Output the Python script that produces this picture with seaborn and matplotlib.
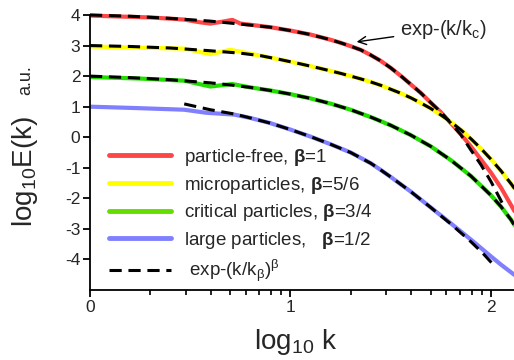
import numpy as np
import pandas as pd
import matplotlib
matplotlib.use("Agg")
import matplotlib.pyplot as plt
from matplotlib.ticker import FixedLocator
from matplotlib.lines import Line2D
import seaborn as sns

# ---- data: x = log10 k, y = log10 E(k) ----
red_x = [0.0, 0.1, 0.2, 0.3, 0.4, 0.47, 0.55, 0.60, 0.66, 0.71, 0.75, 0.80, 0.9, 1.0, 1.1, 1.2, 1.25,
         1.3, 1.35, 1.4, 1.45, 1.5, 1.55, 1.6, 1.65, 1.7, 1.75, 1.8, 1.85, 1.9, 1.95, 2.0, 2.05, 2.1, 2.12]
red_y = [3.98, 3.96, 3.94, 3.92, 3.88, 3.85, 3.76, 3.72, 3.78, 3.84, 3.72, 3.68, 3.60, 3.49, 3.36, 3.19, 3.09,
         2.98, 2.86, 2.69, 2.50, 2.27, 2.01, 1.73, 1.45, 1.13, 0.82, 0.46, 0.10, -0.30, -0.73, -1.16, -1.65, -2.22, -2.45]
red_fit_x = [0.0, 0.2, 0.4, 0.6, 0.8, 0.9, 1.0, 1.1, 1.2, 1.25, 1.3, 1.35, 1.4, 1.45, 1.5, 1.55, 1.6,
             1.65, 1.7, 1.75, 1.8, 1.85, 1.9, 1.95, 2.0, 2.06]
red_fit_y = [4.0, 3.96, 3.89, 3.80, 3.67, 3.60, 3.49, 3.36, 3.19, 3.09, 2.98, 2.86, 2.69, 2.50, 2.27, 2.01, 1.73,
             1.45, 1.13, 0.82, 0.46, 0.08, -0.42, -0.90, -1.45, -2.20]

yel_x = [0.0, 0.25, 0.47, 0.60, 0.70, 0.85, 0.95, 1.05, 1.15, 1.25, 1.3, 1.35, 1.4, 1.45, 1.5, 1.55, 1.6,
         1.65, 1.7, 1.75, 1.8, 1.85, 1.9, 1.95, 2.0, 2.05, 2.1, 2.12]
yel_y = [2.97, 2.93, 2.90, 2.72, 2.86, 2.67, 2.54, 2.40, 2.25, 2.09, 2.00, 1.91, 1.81, 1.70, 1.57, 1.44, 1.29,
         1.12, 0.94, 0.73, 0.50, 0.24, -0.05, -0.37, -0.72, -1.10, -1.52, -1.70]
yel_fit_x = [0.0, 0.2, 0.4, 0.6, 0.75, 0.85, 0.95, 1.05, 1.15, 1.25, 1.3, 1.35, 1.4, 1.45, 1.5, 1.55, 1.6,
             1.65, 1.7, 1.75, 1.8, 1.85, 1.9, 1.95, 2.0, 2.05, 2.1, 2.12]
yel_fit_y = [3.0, 2.97, 2.92, 2.83, 2.75, 2.67, 2.54, 2.40, 2.25, 2.09, 2.00, 1.91, 1.81, 1.70, 1.57, 1.44, 1.29,
             1.12, 0.94, 0.73, 0.50, 0.24, -0.05, -0.37, -0.72, -1.10, -1.52, -1.70]

grn_x = [0.0, 0.25, 0.47, 0.60, 0.71, 0.8, 0.9, 1.0, 1.1, 1.2, 1.3, 1.4, 1.5, 1.6, 1.7, 1.8, 1.9, 2.0,
         2.05, 2.1, 2.12]
grn_y = [1.97, 1.92, 1.85, 1.66, 1.74, 1.63, 1.53, 1.41, 1.27, 1.10, 0.90, 0.66, 0.39, 0.07, -0.30, -0.75, -1.27, -1.90,
         -2.27, -2.70, -2.90]
grn_fit_x = [0.0, 0.2, 0.4, 0.6, 0.7, 0.8, 0.9, 1.0, 1.1, 1.2, 1.3, 1.4, 1.5, 1.6, 1.7, 1.8, 1.9, 2.0,
             2.05, 2.1, 2.12]
grn_fit_y = [2.0, 1.95, 1.88, 1.78, 1.71, 1.63, 1.53, 1.41, 1.27, 1.10, 0.90, 0.66, 0.39, 0.07, -0.30, -0.75, -1.27, -1.90,
             -2.27, -2.70, -2.92]

blu_x = [0.0, 0.25, 0.47, 0.58, 0.72, 0.8, 0.9, 1.0, 1.1, 1.2, 1.3, 1.4, 1.45, 1.5, 1.6, 1.7, 1.8, 1.9, 2.0,
         2.05, 2.1, 2.12]
blu_y = [1.0, 0.95, 0.90, 0.80, 0.74, 0.63, 0.46, 0.25, 0.02, -0.23, -0.50, -0.85, -1.07, -1.30, -1.78, -2.30, -2.82,
         -3.35, -3.90, -4.17, -4.42, -4.52]
blu_fit_x = [0.47, 0.60, 0.72, 0.8, 0.9, 1.0, 1.1, 1.2, 1.3, 1.4, 1.45, 1.5, 1.6, 1.7, 1.8, 1.9, 1.96, 2.02]
blu_fit_y = [1.09, 0.90, 0.76, 0.63, 0.46, 0.25, 0.02, -0.23, -0.50, -0.85, -1.07, -1.30, -1.78, -2.30, -2.84,
             -3.42, -3.80, -4.23]

labels = [r"particle-free, $\mathbf{β}$=1",
          r"microparticles, $\mathbf{β}$=5/6",
          r"critical particles, $\mathbf{β}$=3/4",
          r"large particles,   $\mathbf{β}$=1/2"]
fit_label = r" exp-(k/k$_{β}$)$^{β}$"
colors = ["#ff4646", "#ffff00", "#22dd00", "#8080ff"]
legend_colors = ["#ff4646", "#ffff00", "#66dd00", "#8080ff"]

x_ticks = [0, 1, 2]
y_ticks = [-4, -3, -2, -1, 0, 1, 2, 3, 4]

sns.set_style("ticks")
plt.rcParams["font.family"] = ["Liberation Sans", "DejaVu Sans"]
plt.rcParams["mathtext.fontset"] = "custom"
plt.rcParams["mathtext.rm"] = "Liberation Sans"
plt.rcParams["mathtext.it"] = "Liberation Sans"
plt.rcParams["mathtext.bf"] = "Liberation Sans:bold"
plt.rcParams["axes.unicode_minus"] = False

fig = plt.figure(figsize=(5.14, 3.60), dpi=100)
ax = fig.add_axes([90 / 514, 1 - 290 / 360, 1 - 90 / 514, 275 / 360])

solid = [(red_x, red_y), (yel_x, yel_y), (grn_x, grn_y), (blu_x, blu_y)]
fits = [(red_fit_x, red_fit_y), (yel_fit_x, yel_fit_y), (grn_fit_x, grn_fit_y), (blu_fit_x, blu_fit_y)]

for (xs, ys), c in zip(solid, colors):
    df = pd.DataFrame({"x": xs, "y": ys})
    sns.lineplot(data=df, x="x", y="y", ax=ax, color=c, lw=3.0, sort=False,
                 estimator=None, clip_on=False, solid_capstyle="butt", solid_joinstyle="round")
for xs, ys in fits:
    df = pd.DataFrame({"x": xs, "y": ys})
    sns.lineplot(data=df, x="x", y="y", ax=ax, color="black", lw=2.2, sort=False,
                 estimator=None, clip_on=False, linestyle=(0, (4, 2.2)))

ax.set_xlim(0, 2.115)
ax.set_ylim(-5, 4)
ax.set_xticks(x_ticks)
ax.set_yticks(y_ticks)
ax.set_xticklabels([str(t) for t in x_ticks])
ax.set_yticklabels([str(t) for t in y_ticks])
minor = [d + np.log10(m) for d in (0, 1, 2) for m in range(2, 10)]
ax.xaxis.set_minor_locator(FixedLocator([v for v in minor if v < 2.115]))
ax.tick_params(axis="both", which="major", labelsize=12.5, length=5, width=1.3, color="black", pad=2)
ax.tick_params(axis="x", which="minor", length=3.5, width=1.2, color="black")
for s in ("left", "bottom"):
    ax.spines[s].set_linewidth(1.3)
    ax.spines[s].set_color("black")
sns.despine(ax=ax)
ax.set_xlabel("")
ax.set_ylabel("")

fig.text(296 / 514, 1 - 342 / 360, r"log$_{10}$ k", fontsize=20, ha="center", va="center")
fig.text(25 / 514, 1 - 172 / 360, r"log$_{10}$E(k)", fontsize=20, ha="center", va="center", rotation=90)
fig.text(26 / 514, 1 - 80 / 360, "a.u.", fontsize=13, ha="center", va="center", rotation=90)

ax.annotate(r"exp-(k/k$_c$)", xy=(1.33, 3.12), xytext=(1.545, 3.52), fontsize=14.5,
            ha="left", va="center",
            arrowprops=dict(arrowstyle="->", color="black", lw=1.0, shrinkA=2, shrinkB=0))

handles = [Line2D([], [], color=c, lw=3.5) for c in legend_colors]
handles.append(Line2D([], [], color="black", lw=2.2, linestyle=(0, (4, 2.2))))
ax.legend(handles, labels + [fit_label], loc="upper left", bbox_to_anchor=(0.026, 0.548),
          frameon=False, fontsize=13.5, handlelength=3.35, handletextpad=0.65,
          labelspacing=0.36, borderaxespad=0)

fig.savefig("out.png", dpi=100)
